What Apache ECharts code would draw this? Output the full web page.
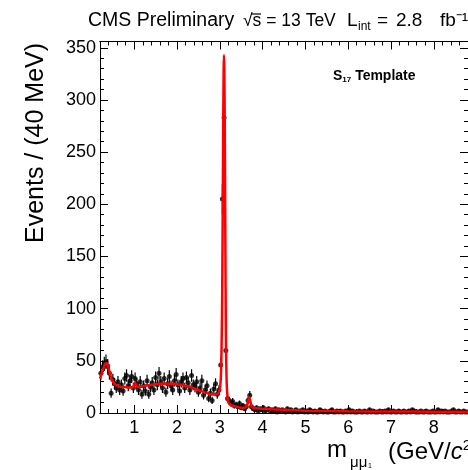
<!DOCTYPE html>
<html><head><meta charset="utf-8">
<script src="https://cdn.jsdelivr.net/npm/echarts@6/dist/echarts.min.js"></script>
<style>html,body{margin:0;padding:0;background:#fff}#c{width:468px;height:470px}</style>
</head><body><div id="c"></div>
<script>
// Histogram definition: 40 MeV bins starting at 0.2 GeV
const binStart = 0.2;
const binWidth = 0.04;
// Events per bin
const counts = [
  38,44,47,49,45,38,19,32,28,24,30,22,27,21,33,36,26,31,35,24,33,28,22,30,18,
  26,21,31,18,25,29,22,34,27,38,30,24,33,20,28,35,26,22,31,37,27,21,30,33,24,
  34,29,22,36,27,25,30,20,24,31,17,22,26,14,19,12,23,28,18,22,46,205,283,60,14,
  12,9,11,7,8,6,9,5,7,4,6,12,17,6,4,3,5,2,4,3,5,2,3,4,2,
  3,2,4,1,3,2,3,2,1,4,2,3,1,2,3,1,2,2,3,1,2,1,3,2,1,
  2,1,1,3,2,1,2,1,1,2,3,1,1,2,1,2,1,1,2,1,3,1,2,1,1,
  1,2,1,1,2,1,1,3,1,2,1,1,1,2,1,1,2,1,3,1,1,2,1,1,2,
  1,1,2,1,1,2,1,3,2,1,1,1,2,1,1,2,1,1,1,2,1,1,3,1,2,
  1,2,1,1,1,2,3,1,1,2,1,1,2,1,1
];
// S17 template fit curve
const curveX = [0.20,0.24,0.28,0.32,0.35,0.38,0.42,0.46,0.50,0.56,0.62,0.70,0.78,0.86,0.94,0.98,1.00,1.02,1.04,1.07,1.12,1.20,1.30,1.40,1.50,1.60,1.70,1.80,1.90,2.00,2.10,2.20,2.30,2.40,2.50,2.60,2.70,2.80,2.88,2.94,2.98,3.01,3.03,3.05,3.06,3.07,3.08,3.09,3.097,3.105,3.115,3.125,3.135,3.145,3.16,3.18,3.20,3.25,3.30,3.40,3.50,3.60,3.64,3.67,3.69,3.71,3.74,3.78,3.85,4.00,4.20,4.50,5.00,5.50,6.00,7.00,8.00,8.80];
const curveY = [33,38,43,47,48,46,40,34,30,27,26,25,25,24.5,24.5,25,27,29,27,25,25,25.5,26.5,27,27.5,28,28,28,28,27.5,27,26,25,23.5,22,20.5,19,18,17.5,18,20,26,40,90,140,210,280,330,343,330,280,200,120,65,30,15,10,8,7,6,5,5.5,8,12,15,12,7,5,4.5,4,3.5,3,2.2,1.8,1.6,1.4,1.3,1.3];
// Axis tick labels
const xTickLabels = [1,2,3,4,5,6,7,8];
const yTickLabels = [0,50,100,150,200,250,300,350];

const FONT = '"Liberation Sans", Arial, Helvetica, sans-serif';
const X0 = 0.2, X1 = 8.8, Y0 = 0, Y1 = 356;

const points = counts.map((v, i) => [binStart + binWidth * (i + 0.5), v]);
const curve = curveX.map((x, i) => [x, curveY[i]]);

function xAx(pos, major, labels) {
  const a = {
    type: 'value', position: pos, min: X0, max: X1, gridIndex: 0,
    axisLine: { show: true, onZero: false, lineStyle: { color: '#000', width: 1 } },
    axisTick: { show: true, inside: true, length: major ? 8 : 4, lineStyle: { color: '#000', width: 1 } },
    axisLabel: { show: labels, color: '#000', fontSize: 18, fontFamily: FONT, margin: 6 },
    splitLine: { show: false }
  };
  if (major) {
    a.axisTick.customValues = xTickLabels;
    a.axisLabel.customValues = xTickLabels;
  } else {
    a.interval = 0.2;
  }
  return a;
}
function yAx(pos, major, labels) {
  const a = {
    type: 'value', position: pos, min: Y0, max: Y1, gridIndex: 0,
    axisLine: { show: true, onZero: false, lineStyle: { color: '#000', width: 1 } },
    axisTick: { show: true, inside: true, length: major ? 8 : 4, lineStyle: { color: '#000', width: 1 } },
    axisLabel: { show: labels, color: '#000', fontSize: 18, fontFamily: FONT, margin: 4 },
    splitLine: { show: false }
  };
  if (major) {
    a.axisTick.customValues = yTickLabels;
    a.axisLabel.customValues = yTickLabels;
  } else {
    a.interval = 10;
  }
  return a;
}

const chart = echarts.init(document.getElementById('c'), null, { renderer: 'canvas' });
chart.setOption({
  animation: false,
  backgroundColor: '#fff',
  grid: { left: 100, right: 0, top: 41.5, bottom: 57, containLabel: false },
  xAxis: [xAx('bottom', true, true), xAx('bottom', false, false), xAx('top', true, false), xAx('top', false, false)],
  yAxis: [yAx('left', true, true), yAx('left', false, false), yAx('right', true, false), yAx('right', false, false)],
  series: [
    {
      type: 'custom', xAxisIndex: 0, yAxisIndex: 0, z: 2, clip: true,
      data: points,
      renderItem: function (params, api) {
        const x = api.value(0), y = api.value(1);
        const e = Math.sqrt(y);
        const p1 = api.coord([x, y - e]);
        const p2 = api.coord([x, y + e]);
        return { type: 'line', shape: { x1: p1[0], y1: p1[1], x2: p2[0], y2: p2[1] },
          style: { stroke: '#000', lineWidth: 1.2 } };
      }
    },
    {
      type: 'scatter', xAxisIndex: 0, yAxisIndex: 0, z: 3,
      data: points, symbol: 'circle', symbolSize: 5,
      itemStyle: { color: '#000' }
    },
    {
      type: 'line', xAxisIndex: 0, yAxisIndex: 0, z: 4,
      data: curve, showSymbol: false, smooth: 0.3,
      lineStyle: { color: '#ff0000', width: 2.5 }
    }
  ],
  graphic: [
    { type: 'text', left: 88, top: 11, style: { text: 'CMS Preliminary', font: '19.5px ' + FONT, fill: '#000' } },
    { type: 'text', left: 243, top: 12, style: { text: '√s = 13 TeV', font: '17.5px ' + FONT, fill: '#000' } },
    { type: 'line', shape: { x1: 251, y1: 14, x2: 261, y2: 14 }, style: { stroke: '#000', lineWidth: 1.2 } },
    { type: 'text', left: 347, top: 11, style: { text: 'L', font: '19px ' + FONT, fill: '#000' } },
    { type: 'text', left: 358, top: 21, style: { text: 'int', font: '12px ' + FONT, fill: '#000' } },
    { type: 'text', left: 377, top: 11, style: { text: '=', font: '19px ' + FONT, fill: '#000' } },
    { type: 'text', left: 396, top: 11, style: { text: '2.8', font: '19px ' + FONT, fill: '#000' } },
    { type: 'text', left: 440, top: 11, style: { text: 'fb⁻¹', font: '19px ' + FONT, fill: '#000' } },
    { type: 'text', left: 333, top: 69, style: {
        rich: { b: { font: 'bold 14px ' + FONT, fill: '#000' }, s: { font: 'bold 8px ' + FONT, fill: '#000', padding: [8, 0, 0, 0] } },
        text: '{b|S}{s|17}{b| Template}' } },
    { type: 'text', x: 36, y: 143, rotation: Math.PI / 2, style: {
        text: 'Events / (40 MeV)', font: '25px ' + FONT, fill: '#000', align: 'center', verticalAlign: 'middle' } },
    { type: 'text', left: 327, top: 438, style: { text: 'm', font: '24px ' + FONT, fill: '#000' } },
    { type: 'text', left: 350, top: 455, style: { text: 'μμ', font: '15px ' + FONT, fill: '#000' } },
    { type: 'text', left: 368, top: 463, style: { text: '1', font: '7px ' + FONT, fill: '#000' } },
    { type: 'text', left: 388, top: 438, style: {
        rich: { a: { font: '24px ' + FONT, fill: '#000' }, i: { font: 'italic 24px ' + FONT, fill: '#000' }, sp: { font: '15px ' + FONT, fill: '#000', padding: [0, 0, 14, 0] } },
        text: '{a|(GeV/}{i|c}{sp|2}{a|)}' } }
  ]
});
</script>
</body></html>
